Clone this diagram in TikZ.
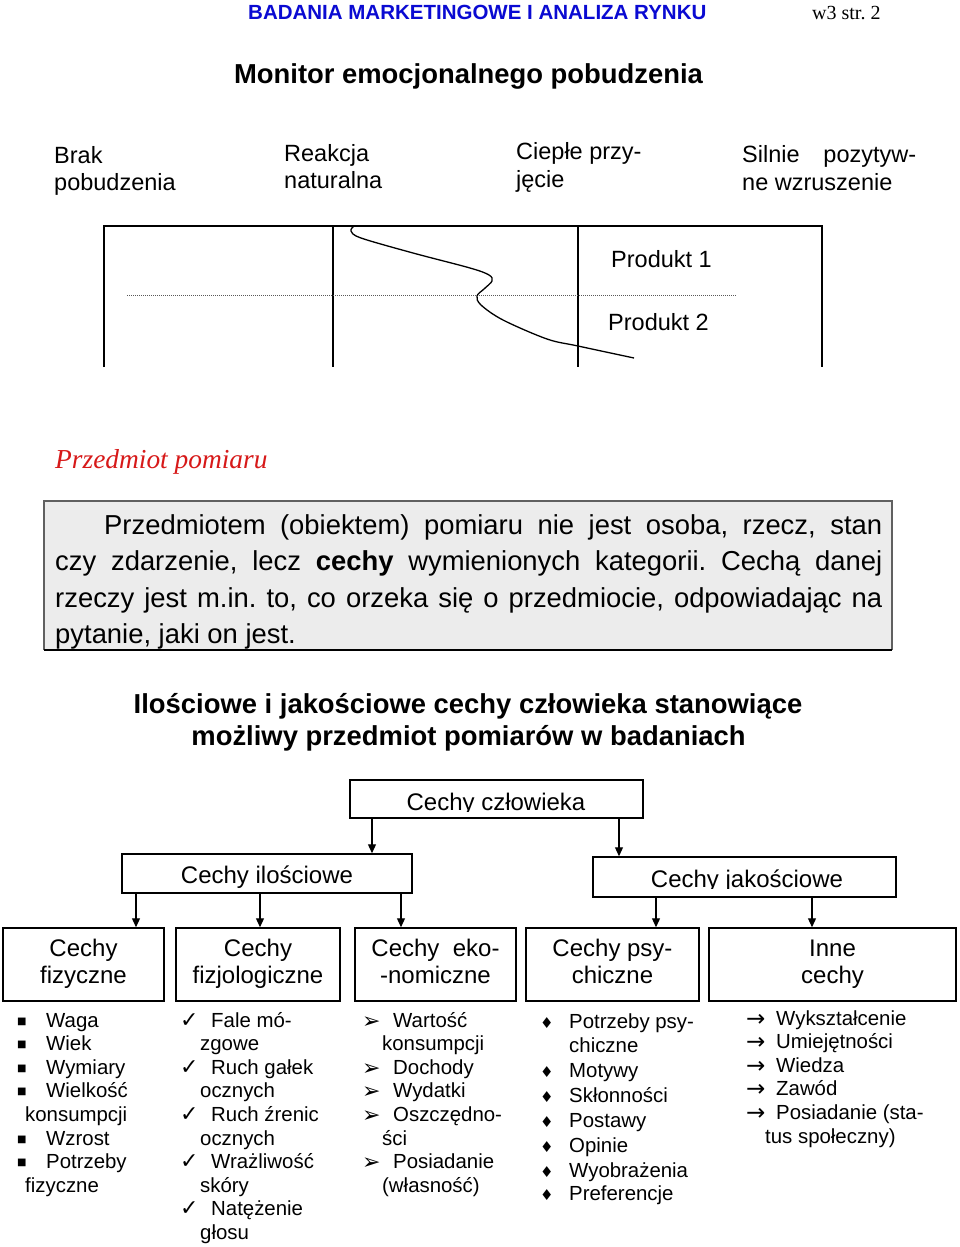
\documentclass[tikz,border=0pt]{standalone}
\usepackage{fontspec}
\setmainfont{Liberation Sans}
\newfontfamily\seriffont{Liberation Serif}
\newfontfamily\symfont{DejaVu Sans}
\usetikzlibrary{arrows.meta}
\definecolor{hblue}{RGB}{10,10,210}
\definecolor{pred}{RGB}{215,25,25}
\definecolor{pgray}{RGB}{236,236,236}
\newcommand{\fsz}[2]{\fontsize{#1}{#2}\selectfont}
\frenchspacing
\begin{document}
\begin{tikzpicture}[x=1pt,y=-1pt,
 txt/.style={inner sep=0pt, anchor=base west},
 ctxt/.style={inner sep=0pt, anchor=base},
 lbl/.style={txt, font=\fsz{23.5}{28}},
 li/.style={txt, font=\fsz{20.4}{24}},
 bsq/.style={txt, font=\symfont\fsz{10}{24}},
 bchk/.style={txt, font=\symfont\fsz{22}{24}},
 barh/.style={txt, font=\symfont\fsz{22}{24}},
 bdia/.style={txt, font=\symfont\fsz{15}{24}},
 brar/.style={txt, font=\symfont\fsz{23}{24}},
 box/.style={draw, line width=1.5pt, inner sep=0pt, align=center, font=\fsz{24}{27}},
 boxtxt/.style={ctxt, font=\fsz{24}{27}},
 arr/.style={line width=1.2pt, -{Triangle[length=9pt,width=8pt]}},
 gridln/.style={line width=1.4pt},
 para/.style={txt, font=\fsz{27.4}{36}},
 big/.style={ctxt, font=\bfseries\fsz{27.4}{32}},
]
\fill[white] (0,0) rectangle (960,1247);
\useasboundingbox (0,0) rectangle (960,1247);

% header
\node[txt, font=\bfseries\fsz{20.5}{24}, text=hblue] (hdr) at (248,20) {BADANIA MARKETINGOWE I ANALIZA RYNKU};
\node[txt, font=\seriffont\fsz{20}{24}] (pg) at (812,20) {w3 str. 2};
\node[big] (title) at (468.5,83) {Monitor emocjonalnego pobudzenia};

% scale labels
\node[lbl] (l1a) at (54,163) {Brak};
\node[lbl] (l1b) at (54,190) {pobudzenia};
\node[lbl] (l2a) at (284,161) {Reakcja};
\node[lbl] (l2b) at (284,188) {naturalna};
\node[lbl] (l3a) at (516,159) {Ciepłe przy-};
\node[lbl] (l3b) at (516,187) {jęcie};
\node[lbl] (l4a) at (742,162) {\makebox[174pt][s]{Silnie pozytyw-}};
\node[lbl] (l4b) at (742,190) {ne wzruszenie};

% monitor grid
\draw[gridln] (104,367) -- (104,226) -- (822,226) -- (822,367);
\draw[gridln] (333,226) -- (333,367);
\draw[gridln] (578,226) -- (578,367);
\draw[line width=0.9pt, gray!70!black, dash pattern=on 1pt off 1pt] (127,295) -- (737,295);
\draw[line width=1.3pt] plot[smooth, tension=0.55] coordinates {(354,226) (351,231) (361,238) (413,253) (470,268) (489,275) (492,281) (484,289) (477,296) (481,305) (503,320) (547,339) (578,346) (634,358)};
\node[lbl] (p1) at (611,267) {Produkt 1};
\node[lbl] (p2) at (608,330) {Produkt 2};

% Przedmiot pomiaru
\node[txt, font=\seriffont\itshape\fsz{27.4}{32}, text=pred] (pp) at (55,468) {Przedmiot pomiaru};
\fill[pgray] (44,501) rectangle (892,650);
\draw[line width=1.5pt, gray!75!black] (44,650) -- (44,501) -- (892,501) -- (892,650);
\draw[line width=1.5pt] (44,650) -- (892,650);
\node[para] (t1) at (104,534.5) {\makebox[778pt][s]{Przedmiotem (obiektem) pomiaru nie jest osoba, rzecz, stan}};
\node[para] (t2) at (55,570.8) {\makebox[827pt][s]{czy zdarzenie, lecz \textbf{cechy} wymienionych kategorii. Cechą danej}};
\node[para] (t3) at (55,607) {\makebox[827pt][s]{rzeczy jest m.in. to, co orzeka się o przedmiocie, odpowiadając na}};
\node[para] (t4) at (55,643) {pytanie, jaki on jest.};

% heading
\node[big] (h1) at (468,713) {Ilościowe i jakościowe cechy człowieka stanowiące};
\node[big] (h2) at (468.5,745) {możliwy przedmiot pomiarów w badaniach};

% tree boxes
\node[box, minimum width=293pt, minimum height=38pt] (hc) at (496.5,799) {};
\begin{scope}
\clip (351,781) rectangle (642,811);
\node[boxtxt] (hct) at (496,810) {Cechy człowieka};
\end{scope}
\node[box, minimum width=290pt, minimum height=39pt] (hi) at (267,873.5) {};
\node[boxtxt] (hit) at (267,883) {Cechy ilościowe};
\node[box, minimum width=303pt, minimum height=40pt] (hj) at (744.5,877) {};
\begin{scope}
\clip (594,858) rectangle (895,888.5);
\node[boxtxt] (hjt) at (747,887) {Cechy jakościowe};
\end{scope}

\node[box, minimum width=161pt, minimum height=73pt] (b1) at (83.5,964.5) {Cechy\strut\\fizyczne\strut};
\node[box, minimum width=164pt, minimum height=73pt] (b2) at (258,964.5) {Cechy\strut\\fizjologiczne\strut};
\node[box, minimum width=161pt, minimum height=73pt] (b3) at (435.5,964.5) {Cechy\ \ eko-\strut\\-nomiczne\strut};
\node[box, minimum width=173pt, minimum height=73pt] (b4) at (612.5,964.5) {Cechy psy-\strut\\chiczne\strut};
\node[box, minimum width=247pt, minimum height=73pt] (b5) at (832.5,964.5) {Inne\strut\\cechy\strut};

% arrows
\coordinate (xa) at (372,0);
\coordinate (xb) at (619,0);
\coordinate (x1) at (136,0);
\coordinate (x2) at (260,0);
\coordinate (x3) at (401,0);
\coordinate (x4) at (656,0);
\coordinate (x5) at (812,0);
\draw[arr] (hc.south -| xa) -- (hi.north -| xa);
\draw[arr] (hc.south -| xb) -- (hj.north -| xb);
\draw[arr] (hi.south -| x1) -- (b1.north -| x1);
\draw[arr] (hi.south -| x2) -- (b2.north -| x2);
\draw[arr] (hi.south -| x3) -- (b3.north -| x3);
\draw[arr] (hj.south -| x4) -- (b4.north -| x4);
\draw[arr] (hj.south -| x5) -- (b5.north -| x5);

% column 1
\node[bsq] (s11) at (17,1024) {■};
\node[bsq] (s12) at (17,1047.6) {■};
\node[bsq] (s13) at (17,1071.2) {■};
\node[bsq] (s14) at (17,1094.8) {■};
\node[bsq] (s15) at (17,1142) {■};
\node[bsq] (s16) at (17,1165.6) {■};
\node[li] (c11) at (46,1027) {Waga};
\node[li] (c12) at (46,1050.6) {Wiek};
\node[li] (c13) at (46,1074.2) {Wymiary};
\node[li] (c14) at (46,1097.8) {Wielkość};
\node[li] (c15) at (25,1121.4) {konsumpcji};
\node[li] (c16) at (46,1145) {Wzrost};
\node[li] (c17) at (46,1168.6) {Potrzeby};
\node[li] (c18) at (25,1192.2) {fizyczne};

% column 2
\node[bchk] (s21) at (180,1027) {✓};
\node[bchk] (s22) at (180,1074.2) {✓};
\node[bchk] (s23) at (180,1121.4) {✓};
\node[bchk] (s24) at (180,1168.6) {✓};
\node[bchk] (s25) at (180,1215.8) {✓};
\node[li] (c21) at (211,1027) {Fale mó-};
\node[li] (c22) at (200,1050.6) {zgowe};
\node[li] (c23) at (211,1074.2) {Ruch gałek};
\node[li] (c24) at (200,1097.8) {ocznych};
\node[li] (c25) at (211,1121.4) {Ruch źrenic};
\node[li] (c26) at (200,1145) {ocznych};
\node[li] (c27) at (211,1168.6) {Wrażliwość};
\node[li] (c28) at (200,1192.2) {skóry};
\node[li] (c29) at (211,1215.8) {Natężenie};
\node[li] (c210) at (200,1239.4) {głosu};

% column 3
\node[barh] (s31) at (362,1028) {➢};
\node[barh] (s32) at (362,1075.2) {➢};
\node[barh] (s33) at (362,1098.8) {➢};
\node[barh] (s34) at (362,1122.4) {➢};
\node[barh] (s35) at (362,1169.6) {➢};
\node[li] (c31) at (393,1027) {Wartość};
\node[li] (c32) at (382,1050.6) {konsumpcji};
\node[li] (c33) at (393,1074.2) {Dochody};
\node[li] (c34) at (393,1097.8) {Wydatki};
\node[li] (c35) at (393,1121.4) {Oszczędno-};
\node[li] (c36) at (382,1145) {ści};
\node[li] (c37) at (393,1168.6) {Posiadanie};
\node[li] (c38) at (382,1192.2) {(własność)};

% column 4
\node[bdia] (s41) at (540,1028) {♦};
\node[bdia] (s42) at (540,1077) {♦};
\node[bdia] (s43) at (540,1102) {♦};
\node[bdia] (s44) at (540,1127) {♦};
\node[bdia] (s45) at (540,1152) {♦};
\node[bdia] (s46) at (540,1177) {♦};
\node[bdia] (s47) at (540,1200) {♦};
\node[li] (c41) at (569,1028) {Potrzeby psy-};
\node[li] (c42) at (569,1052) {chiczne};
\node[li] (c43) at (569,1077) {Motywy};
\node[li] (c44) at (569,1102) {Skłonności};
\node[li] (c45) at (569,1127) {Postawy};
\node[li] (c46) at (569,1152) {Opinie};
\node[li] (c47) at (569,1177) {Wyobrażenia};
\node[li] (c48) at (569,1200) {Preferencje};

% column 5
\node[brar] (s51) at (746,1026) {→};
\node[brar] (s52) at (746,1049.6) {→};
\node[brar] (s53) at (746,1073.2) {→};
\node[brar] (s54) at (746,1096.8) {→};
\node[brar] (s55) at (746,1120.4) {→};
\node[li] (c51) at (776,1025) {Wykształcenie};
\node[li] (c52) at (776,1048.6) {Umiejętności};
\node[li] (c53) at (776,1072.2) {Wiedza};
\node[li] (c54) at (776,1095.8) {Zawód};
\node[li] (c55) at (776,1119.4) {Posiadanie (sta-};
\node[li] (c56) at (765,1143) {tus społeczny)};
\end{tikzpicture}
\end{document}
